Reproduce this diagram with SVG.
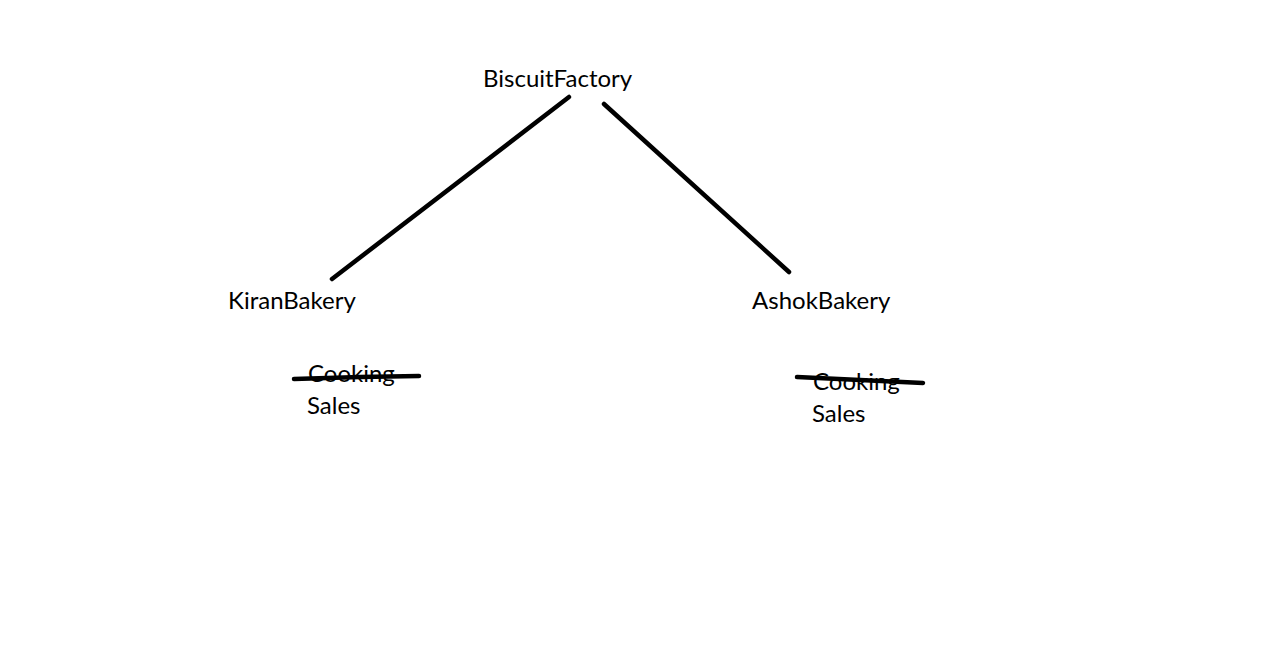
<svg xmlns="http://www.w3.org/2000/svg" width="1282" height="659" viewBox="0 0 1282 659">
<style>
text{font-family:Lato,"Open Sans","Liberation Sans",sans-serif;font-size:24px;fill:#000}
.ln{stroke:#000;stroke-width:4.5;stroke-linecap:round;fill:none}
</style>
<rect width="1282" height="659" fill="#fff"/>
<g id="connectors">
<line class="ln" x1="569" y1="97" x2="332" y2="279"/>
<line class="ln" x1="604" y1="104" x2="789" y2="272"/>
</g>
<g id="biscuitfactory"><text x="483" y="87">BiscuitFactory</text></g>
<g id="kiranbakery">
<text x="228" y="309">KiranBakery</text>
<text x="308" y="382">Cooking</text>
<text x="307" y="414">Sales</text>
<path class="ln" d="M294,379 L360,377 L419,376"/>
</g>
<g id="ashokbakery">
<text x="752" y="309">AshokBakery</text>
<text x="813" y="390">Cooking</text>
<text x="812" y="422">Sales</text>
<path class="ln" d="M797,377 L860,380 L923,383"/>
</g>
</svg>
